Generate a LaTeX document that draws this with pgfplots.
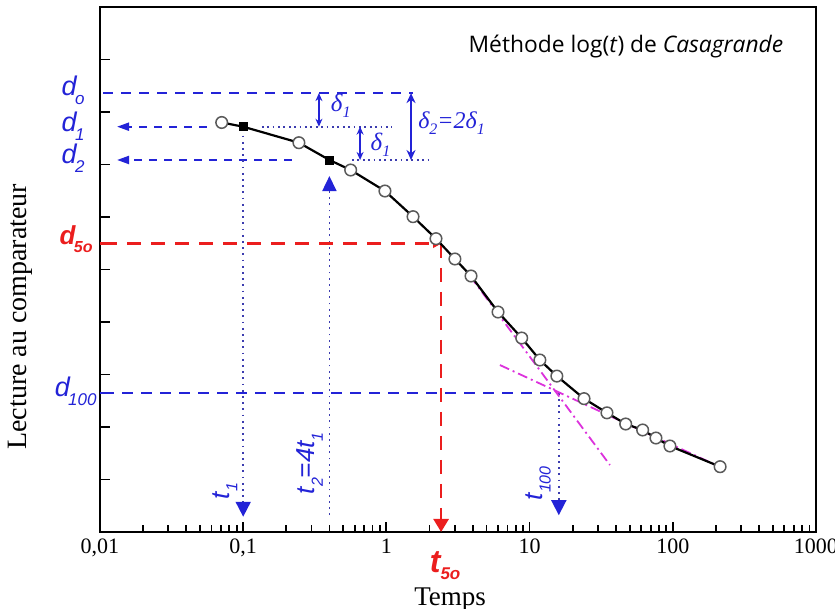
\documentclass[border=0pt]{standalone}
\usepackage{fontspec}
\setmainfont{Liberation Serif}
\newfontfamily\arialf{Liberation Sans}
\newfontfamily\titlef{Open Sans}
\usepackage{pgfplots}
\usepackage{pgfplotstable}
\pgfplotsset{compat=1.18}
\usetikzlibrary{arrows.meta}

\definecolor{dblue}{RGB}{35,35,215}
\definecolor{dotblue}{RGB}{60,60,175}
\definecolor{dred}{RGB}{235,30,30}
\definecolor{dmag}{RGB}{220,50,220}
\definecolor{mgray}{RGB}{90,90,90}

\newcommand{\dlab}[2]{{\arialf\itshape\fontsize{13.5}{13.5}\selectfont #1\kern-0.8pt\raisebox{-4.5pt}{\fontsize{8.5}{8.5}\selectfont #2}}}
\newcommand{\tlab}[2]{{\arialf\itshape\fontsize{13}{13}\selectfont #1\raisebox{-4pt}{\fontsize{8}{8}\selectfont #2}}}
\newcommand{\rlab}[2]{{\arialf\bfseries\itshape\fontsize{13}{13}\selectfont #1\kern-0.8pt\raisebox{-4pt}{\fontsize{8}{8}\selectfont #2}}}

\pgfplotstableread{
t u
0.0708 7.80
0.100 7.72
0.245 7.415
0.400 7.086
0.563 6.895
0.977 6.495
1.535 6.006
2.22 5.587
3.01 5.20
3.90 4.876
6.02 4.19
8.81 3.695
11.8 3.276
15.5 2.97
24.0 2.54
34.7 2.27
46.9 2.057
61.6 1.943
76.3 1.79
95.5 1.638
214 1.244
}\curve

\pgfplotstableread{
t u
0.0708 7.80
0.245 7.415
0.563 6.895
0.977 6.495
1.535 6.006
2.22 5.587
3.01 5.20
3.90 4.876
6.02 4.19
8.81 3.695
11.8 3.276
15.5 2.97
24.0 2.54
34.7 2.27
46.9 2.057
61.6 1.943
76.3 1.79
95.5 1.638
214 1.244
}\circles

\pgfplotstableread{
t u
0.100 7.72
0.400 7.086
}\squares

\begin{document}
\begin{tikzpicture}
\begin{axis}[
  scale only axis, width=358pt, height=262.5pt,
  xmode=log, log basis x=10,
  xmin=0.01, xmax=1000, ymin=0, ymax=10,
  xtick={0.01,0.1,1,10,100,1000},
  xticklabels={{0,01},{0,1},1,10,100,1000},
  minor xtick={0.02,0.03,0.04,0.05,0.06,0.07,0.08,0.09,0.2,0.3,0.4,0.5,0.6,0.7,0.8,0.9,2,3,4,5,6,7,8,9,20,30,40,50,60,70,80,90,200,300,400,500,600,700,800,900},
  ytick={1,2,3,4,5,6,7,8,9}, yticklabels={},
  tick align=inside, xtick pos=bottom, ytick pos=left,
  major tick length=5pt, minor tick length=3.5pt,
  axis line style={line width=0.9pt},
  every tick/.style={black, line width=0.9pt},
  tick label style={font=\fontsize{11}{11}\selectfont},
  clip=false,
]
% reference lines
\addplot[dblue, line width=1pt, dash pattern=on 5pt off 4pt] coordinates {(0.0105,8.36) (1.535,8.36)};
\addplot[dblue, line width=1pt, dash pattern=on 4pt off 3.5pt, -{Triangle[width=4pt,length=6pt]}] coordinates {(0.0558,7.72) (0.01315,7.72)};
\addplot[dblue, line width=1pt, dash pattern=on 4pt off 3.5pt, -{Triangle[width=4pt,length=6pt]}] coordinates {(0.219,7.086) (0.01315,7.086)};
\addplot[dotblue, line width=0.9pt, dash pattern=on 0.9pt off 1.8pt] coordinates {(0.135,7.72) (1.094,7.72)};
\addplot[dotblue, line width=0.9pt, dash pattern=on 0.9pt off 1.8pt] coordinates {(0.575,7.086) (1.95,7.086)};
\addplot[dblue, line width=0.9pt, {Stealth[width=3.5pt,length=4pt]}-{Stealth[width=3.5pt,length=4pt]}] coordinates {(0.338,8.36) (0.338,7.72)};
\addplot[dblue, line width=0.9pt, {Stealth[width=3.5pt,length=4pt]}-{Stealth[width=3.5pt,length=4pt]}] coordinates {(0.655,7.72) (0.655,7.086)};
\addplot[dblue, line width=1pt, {Stealth[width=4.5pt,length=5pt]}-{Stealth[width=4.5pt,length=5pt]}] coordinates {(1.486,8.36) (1.486,7.086)};
% t1, t2
\addplot[dotblue, line width=0.9pt, dash pattern=on 0.9pt off 2.2pt, -{Triangle[width=7.5pt,length=7.5pt,color=dblue,fill=dblue]}] coordinates {(0.1,7.55) (0.1,0.29)};
\addplot[dotblue, line width=0.9pt, dash pattern=on 0.9pt off 2.2pt, -{Triangle[width=7pt,length=7.5pt,color=dblue,fill=dblue]}] coordinates {(0.4,0.32) (0.4,6.78)};
% d50 / t50
\addplot[dred, line width=1.3pt, dash pattern=on 7pt off 5pt, -{Triangle[width=4pt,length=4pt]}] coordinates {(0.0105,5.49) (2.41,5.49)};
\addplot[dred, line width=1.3pt, dash pattern=on 7pt off 5pt, -{Triangle[width=7.5pt,length=6.5pt]}] coordinates {(2.41,5.49) (2.41,0.0)};
\addplot[dred, line width=1.3pt] coordinates {(0.01,5.49) (0.0106,5.49)};
% d100 / t100
\addplot[dblue, line width=1pt, dash pattern=on 5.5pt off 4pt] coordinates {(0.0105,2.65) (16.0,2.65)};
\addplot[dblue, line width=1.3pt] coordinates {(0.01,2.65) (0.0106,2.65)};
\addplot[dotblue, line width=0.9pt, dash pattern=on 0.9pt off 2.2pt, -{Triangle[width=7.5pt,length=7.5pt,color=dblue,fill=dblue]}] coordinates {(16.0,2.65) (16.0,0.32)};
% tangents
\addplot[dmag, line width=0.9pt, dash pattern=on 5pt off 2pt on 1pt off 2pt] coordinates {(3.84,4.876) (36.4,1.276)};
\addplot[dmag, line width=0.9pt, dash pattern=on 5pt off 2pt on 1pt off 2pt] coordinates {(6.21,3.18) (214,1.238)};
% curve
\addplot[black, line width=1.1pt] table[x=t,y=u] {\curve};
\addplot[only marks, mark=*, mark size=2.9pt, mark options={fill=white, draw=mgray, line width=0.75pt}] table[x=t,y=u] {\circles};
\addplot[only marks, mark=square*, mark size=2pt, mark options={fill=black, draw=black}] table[x=t,y=u] {\squares};
% labels
\node[font=\titlef\fontsize{11.4}{11.4}\selectfont] at (rel axis cs:0.7346,0.924) {Méthode log(\textit{t}) de \textit{Casagrande}};
\node[anchor=base east, dblue, inner sep=0pt] at ([xshift=-7.5pt, yshift=-1pt]axis cs:0.01,8.36) {\dlab{d}{o}};
\node[anchor=base east, dblue, inner sep=0pt] at ([xshift=-7.5pt, yshift=-2.5pt]axis cs:0.01,7.72) {\dlab{d}{1}};
\node[anchor=base east, dblue, inner sep=0pt] at ([xshift=-7.5pt, yshift=-2pt]axis cs:0.01,7.086) {\dlab{d}{2}};
\node[anchor=base east, dred, inner sep=0pt] at ([xshift=-3.5pt, yshift=-0.5pt]axis cs:0.01,5.49) {\rlab{d}{5o}};
\node[anchor=base east, dblue, inner sep=0pt] at ([xshift=-1.5pt, yshift=-2pt]axis cs:0.01,2.65) {\dlab{d}{100}};
\node[dblue, font=\itshape\fontsize{12.5}{12.5}\selectfont] at (axis cs:0.48,8.12) {δ\raisebox{-3pt}{\fontsize{8}{8}\selectfont\itshape 1}};
\node[dblue, font=\itshape\fontsize{12.5}{12.5}\selectfont] at (axis cs:0.91,7.38) {δ\raisebox{-3pt}{\fontsize{8}{8}\selectfont\itshape 1}};
\node[dblue, anchor=west, inner sep=0pt, font=\itshape\fontsize{12}{12}\selectfont] at (axis cs:1.66,7.79) {δ\raisebox{-3pt}{\fontsize{8}{8}\selectfont\itshape 2}=2δ\raisebox{-3pt}{\fontsize{8}{8}\selectfont\itshape 1}};
\node[dblue, rotate=90, inner sep=0pt] at (axis cs:0.0745,0.78) {\tlab{t}{1}};
\node[dblue, rotate=90, inner sep=0pt] at (axis cs:0.293,1.31) {\tlab{t}{2}{\arialf\itshape\fontsize{13}{13}\selectfont =4}\tlab{t}{1}};
\node[dblue, rotate=90, inner sep=0pt] at (axis cs:11.5,0.93) {\tlab{t}{100}};
\node[dred, anchor=base, inner sep=0pt] at ([yshift=-20.5pt, xshift=2pt]axis cs:2.41,0) {{\arialf\bfseries\itshape\fontsize{16}{16}\selectfont t}\raisebox{-3.5pt}{\arialf\bfseries\itshape\fontsize{8.5}{8.5}\selectfont 5o}};
\node[rotate=90, font=\fontsize{14}{14}\selectfont] at ([xshift=-40pt]rel axis cs:0,0.41) {Lecture au comparateur};
\node[font=\fontsize{13.5}{13.5}\selectfont] at ([yshift=-34pt]rel axis cs:0.489,0) {Temps};
\coordinate (bl) at (rel axis cs:0,0);
\coordinate (tr) at (rel axis cs:1,1);
\end{axis}
\pgfresetboundingbox
\path ([shift={(-50pt,-38.5pt)}]bl) rectangle ([shift={(9.5pt,3.5pt)}]tr);
\end{tikzpicture}
\end{document}
